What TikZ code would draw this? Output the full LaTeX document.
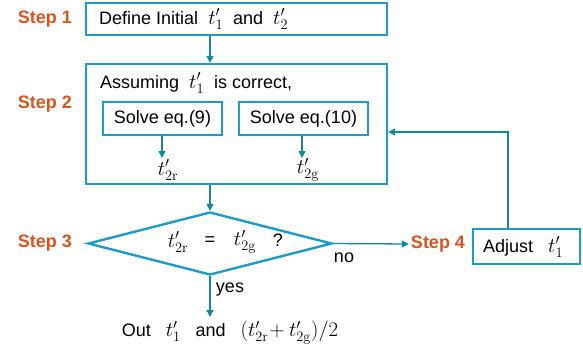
\documentclass[tikz,border=0pt]{standalone}
\usepackage[no-math]{fontspec}
\setmainfont{Liberation Sans}
\usetikzlibrary{shapes.geometric,arrows.meta}
\definecolor{boxc}{HTML}{1E9BC8}
\definecolor{arrc}{HTML}{15899A}
\definecolor{stepc}{HTML}{D8541E}
\newcommand{\mth}[1]{{\fontsize{22}{24}\selectfont$#1$}}
\tikzset{
  every node/.style={font=\fontsize{18}{21}\selectfont, inner sep=0pt},
  box/.style={draw=boxc, line width=2.4pt, minimum width=#1, anchor=center},
  steplab/.style={text=stepc, font=\fontsize{18}{21}\selectfont\bfseries},
  arr/.style={draw=arrc, line width=1.3pt, -{Triangle[length=7pt,width=7pt]}}
}
\begin{document}
\begin{tikzpicture}[x=1pt,y=-1pt]
\useasboundingbox (0,0) rectangle (583,349);
\coordinate (cx) at (210,0);
% boxes
\node[box=301pt, minimum height=32pt] (b1) at (236.5,19) {};
\node[box=301pt, minimum height=120pt] (b2) at (236.5,124) {};
\node[box=119pt, minimum height=33pt] (s9) at (162.5,118.5) {};
\node[box=129pt, minimum height=33pt] (s10) at (303.5,118.5) {};
\node[box=107pt, minimum height=35pt] (adj) at (526.5,246.5) {};
\node[draw=boxc, line width=2.4pt, shape=diamond, minimum width=244pt, minimum height=63pt] (dia) at (210,243.5) {};
% texts
\node[anchor=west] (t1) at (99,19) {Define Initial\ \ \mth{t'_1}\ \ and\ \ \mth{t'_2}};
\node[anchor=west] (t2) at (100,83) {Assuming\ \ \mth{t'_1}\ \ is correct,};
\node (t9) at (s9) {Solve eq.(9)};
\node (t10) at (s10) {Solve eq.(10)};
\node (r) at (168,170) {\mth{t'_{2\mathrm{r}}}};
\node (g) at (308,170) {\mth{t'_{2\mathrm{g}}}};
\node (qa) at (178,242) {\mth{t'_{2\mathrm{r}}}};
\node (qb) at (210,241) {=};
\node (qc) at (245,242) {\mth{t'_{2\mathrm{g}}}};
\node (qd) at (278,240) {?};
\node[anchor=west] (ta) at (483,247) {Adjust\ \ \ \mth{t'_1}};
\node (out) at (230,333) {Out\ \ \ \mth{t'_1}\ \ \ and\ \ \ \mth{(t'_{2\mathrm{r}}\!+t'_{2\mathrm{g}})/2}};
\node (no) at (344,258) {no};
\node (yes) at (230,290) {yes};
\node[steplab] (st1) at (45,19) {Step 1};
\node[steplab] (st2) at (45,104) {Step 2};
\node[steplab] (st3) at (45,243) {Step 3};
\node[steplab] (st4) at (438,244) {Step 4};
% arrows
\coordinate (c9) at (162,158);
\coordinate (c10) at (302,158);
\coordinate (cout) at (210,317);
\draw[arr] (b1.south -| cx) -- (b2.north -| cx);
\draw[arr] (s9.south -| c9) -- (c9);
\draw[arr] (s10.south -| c10) -- (c10);
\draw[arr] (b2.south -| cx) -- (dia.north);
\draw[arr] (dia.south) -- (cout);
\draw[arr] (dia.east) -- ([xshift=-2pt]st4.west);
\coordinate (fb) at (508,132);
\draw[arr] (adj.north -| fb) -- (fb) -- (b2.east |- fb);
\end{tikzpicture}
\end{document}
